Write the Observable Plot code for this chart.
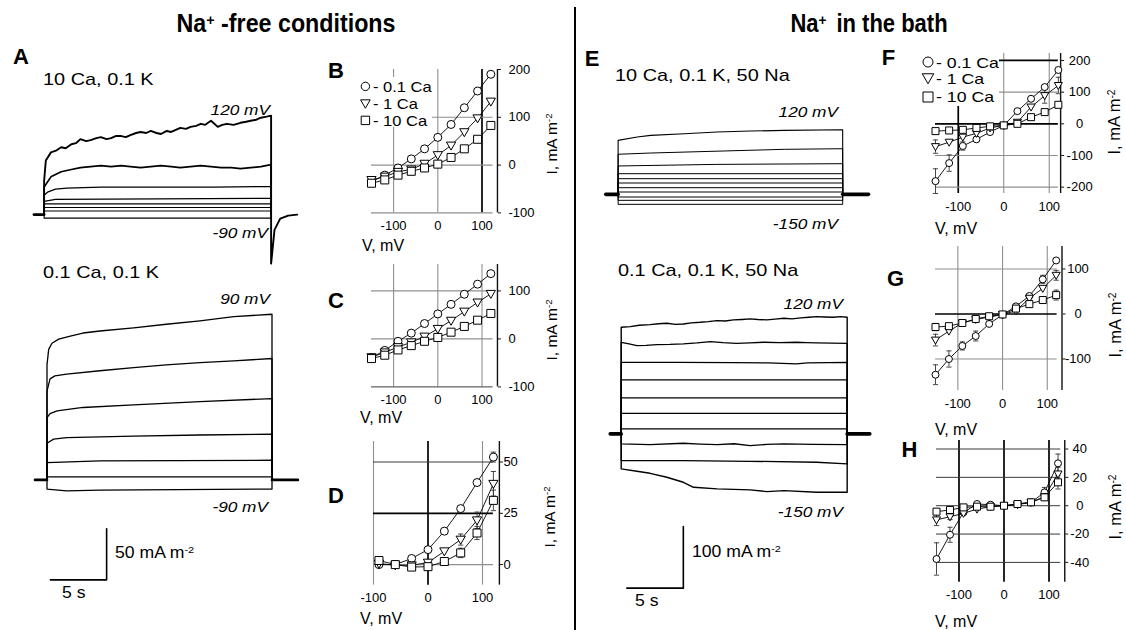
<!DOCTYPE html>
<html><head><meta charset="utf-8">
<script src="https://cdn.jsdelivr.net/npm/d3@7"></script>
<script src="https://cdn.jsdelivr.net/npm/@observablehq/plot@0.6"></script>
<style>
body{margin:0;background:#fff}
#fig{position:relative;width:1126px;height:630px;overflow:hidden;background:#fff;font-family:"Liberation Sans",Arial,Helvetica,sans-serif;color:#000}
.lab{position:absolute;white-space:nowrap;line-height:1}
</style></head><body><div id="fig"></div><script>
// ---------------- DATA ----------------
// I-V panels: voltage steps (mV) and mean currents (mA m^-2)
const V = [-150,-120,-90,-60,-30,0,30,60,90,120];
const VD = [-90,-60,-30,0,30,60,90,120];
const seriesNames = ["- 0.1 Ca","- 1 Ca","- 10 Ca"];

const B_ca01 = [-35,-21,-6,13,34,58,85,120,155,190];
const B_ca1  = [-31,-24,-14,-9,3,21,41,69,98,133];
const B_ca10 = [-38,-31,-21,-13,-6,2,16,34,54,83];

const C_ca01 = [-39,-24,-5,12,32,52,72,93,114,136];
const C_ca1  = [-38,-28,-17,-7,5,21,38,57,76,94];
const C_ca10 = [-41,-34,-23,-14,-5,3,14,26,39,53];

const D_ca01 = [0,0,3,7.3,16.3,27.3,40,52.4];
const D_ca1  = [0.5,-0.3,-0.3,1,6.5,12.2,21.6,39.4];
const D_ca10 = [2,0,-1.2,-1,1.5,5.7,15.4,31.3];
const D_err01 = [0,0,0,0,0,0,0,2.4];
const D_err1  = [0,0,0,0,0,2.7,4,6];
const D_err10 = [0,0,0,0,0,2.3,3.2,5];

const F_ca01 = [-181,-124,-70,-49,-26,-5,40,79,116,170];
const F_ca1  = [-72,-58,-42,-30,-13,-5,5,53,89,121];
const F_ca10 = [-23,-21,-19,-13,-8,-5,0,21,37,60];
const F_err01 = [39,26,13,0,0,0,0,0,0,0];
const F_err1  = [21,0,0,0,0,0,0,0,24,26];
const F_err10 = [0,0,0,0,0,0,0,0,0,8];

const G_ca01 = [-135,-100,-71,-49,-22,-1.5,17,40,77,119];
const G_ca1  = [-58,-38,-20,-12,-7,-1,7,35,57,86];
const G_ca10 = [-29,-27,-20,-11,-5,-1,12,22,31,42];
const G_err01 = [22,18,9,11,0,0,0,0,9,0];
const G_err1  = [13,0,0,0,0,0,0,0,0,11];
const G_err10 = [8,0,0,0,0,0,0,0,7,11];

const H_ca01 = [-37.6,-20.5,-4.7,1.2,0.7,0,1.2,2.4,9.4,29.9];
const H_ca1  = [-10,-7.8,-5.4,-2.4,-0.7,0,0.7,2.4,6.4,22.4];
const H_ca10 = [-4.2,-3,-1.2,-0.7,-0.7,0,1.2,2.4,5.9,16.5];
const H_err01 = [11.4,5.3,0,0,0,0,0,0,3.5,6.5];
const H_err1  = [4,2,0,0,0,0,0,0,0,4.7];
const H_err10 = [0,0,0,0,0,0,0,0,0,4.7];
const zeros = V.map(() => 0);

// Current traces: [time s, current mA m^-2]
// A, 10 Ca, 0.1 K
const A1_120 = [[0,0],[0,33],[0.15,53],[0.6,61],[1.1,63],[1.5,66],[1.9,65],[2.4,69],[2.8,70],[3.2,74],[3.7,72],[4.1,73],[4.6,75],[5,76],[5.5,74],[5.9,75],[6.3,77],[6.8,77],[7.2,76],[7.6,78],[8.1,80],[8.5,81],[9,80],[9.4,82],[9.9,80],[10.3,79],[10.8,82],[11.2,81],[11.6,83],[12,85],[12.5,84],[12.9,86],[13.4,87],[13.8,89],[14.2,88],[14.7,92],[15,89],[15.3,86],[15.7,88],[16.1,89],[16.7,88],[17.3,90],[17.8,91],[18.2,92],[18.7,93],[19.1,95],[19.6,96],[20,97],[20,-48],[20.3,-15],[20.8,-4],[21.5,-1],[22.3,0]];
const A1_90 = [[0,0],[0,27],[0.6,37],[1.5,42],[2.3,44],[3.2,46],[4.1,47],[5,48],[5.9,47],[6.8,48],[7.6,47],[8.5,46],[9.4,47],[10.3,48],[11.2,47],[12,46],[12.9,47],[13.8,48],[14.7,47],[15.6,46],[16.5,46],[17.3,45],[18.2,46],[19.1,47],[20,49],[20,0]];
const A1_60 = [[0,0],[0,19],[0.3,22],[1,25],[2,26],[5,27],[10,27],[15,27],[20,27.5],[20,0]];
const A1_30 = [[0,0],[0,13],[1,15],[10,15.5],[20,16],[20,0]];
const A1_0 = [[0,0],[0,10.5],[20,10.5],[20,0]];
const A1_m30 = [[0,0],[0,7],[20,7],[20,0]];
const A1_m60 = [[0,0],[0,3.5],[20,3.5],[20,0]];
const A1_m90 = [[0,0],[0,-3.5],[20,-3.5],[20,0]];
const A1_hold = [[-0.9,0],[0,0]];
// A, 0.1 Ca, 0.1 K
const A2_90 = [[0,0],[0,113],[0.15,128],[0.44,134],[1.04,138],[2.07,141],[3.2,144],[4.7,146],[7.7,149],[10.6,152.6],[13.6,156],[16.6,160],[20,162.4],[20,0]];
const A2_60 = [[0,0],[0,87],[0.27,99],[0.7,102],[1.75,103.6],[4.7,107],[7.7,110],[10.6,112.7],[13.6,115],[16.6,116.7],[20,119],[20,0]];
const A2_30 = [[0,0],[0,61],[0.27,65],[0.9,67.6],[3.2,71],[7.7,73.5],[13.6,76.8],[20,79.7],[20,0]];
const A2_0 = [[0,0],[0,36],[0.59,40],[1.75,41.5],[7.7,43],[13.6,44],[20,44.8],[20,0]];
const A2_m30 = [[0,0],[0,17],[4.7,18.6],[20,19.3],[20,0]];
const A2_m60 = [[0,0],[0,3],[20,3],[20,0]];
const A2_m90 = [[0,0],[0,-9],[1.75,-10.8],[4.7,-10],[20,-9],[20,0]];
const A2_hold1 = [[-1.07,0],[0,0]];
const A2_hold2 = [[20,0],[22.3,0]];
const A_scaleBar = [[0.3,-98],[5.3,-98],[5.3,-48]];   // 5 s, 50 mA m^-2
// E, 10 Ca, 0.1 K, 50 Na
const E1_a = [[0,0],[0,87.5],[1.7,93],[2.9,95.6],[5.9,98.3],[8.8,101],[11.8,102.6],[14.8,103.7],[20,104.8],[20,0]];
const E1_b = [[0,0],[0,65],[2.9,67],[8.8,70],[14.8,73],[20,74],[20,0]];
const E1_c = [[0,0],[0,46],[8.8,48.6],[20,49.7],[20,0]];
const E1_levels = [33.5,25.4,18.4,10.8,3.8,-4.3,-9.7,-16.2];
const E1_hold1 = [[-1.1,0],[0,0]];
const E1_hold2 = [[20,0],[22.3,0]];
// E, 0.1 Ca, 0.1 K, 50 Na
const E2_1 = [[0,0],[0,172.8],[0.8,173.9],[1.6,176],[2.56,177.1],[3.3,178.5],[4.04,179.3],[4.8,177.5],[5.5,178.2],[6.2,180],[7,180.9],[7.7,182],[8.47,183.6],[9.2,183],[9.94,184.8],[10.7,185.5],[11.4,186.4],[12.1,185.5],[12.9,184.8],[13.6,186],[14.4,187.4],[15.1,186.5],[15.9,188],[16.6,189],[17.3,190.1],[18,189.5],[18.8,189],[19.4,190],[20,189],[20,0]];
const E2_2 = [[0,0],[0,148.5],[0.7,146],[1.39,143.1],[2.2,143.5],[3.16,144.7],[4.3,145],[5.5,145.9],[6.7,147.5],[7.9,149.6],[9,148],[10.2,146.8],[11.4,147.5],[12.6,148.5],[14,148],[15.5,148.5],[16.4,148],[17.3,147.4],[18.6,147],[20,146.8],[20,0]];
const E2_3 = [[0,0],[0,116],[5,116],[10,115.5],[13,115],[15.5,113.4],[16.5,115],[20,116],[20,0]];
const E2_levels = [87.5,58.3,33.4,8.1];
const E2_8 = [[0,0],[0,-16.2],[2.56,-17.3],[5.5,-15.2],[7,-16.5],[8.5,-17.3],[10,-16],[11.4,-19],[12.9,-17],[14.4,-16.2],[17,-17],[20,-17.3],[20,0]];
const E2_9 = [[0,0],[0,-43.3],[5.5,-43.3],[11.4,-44.4],[17.3,-46],[20,-48.6],[20,0]];
const E2_10 = [[0,0],[0,-56.7],[1.39,-60.6],[2.56,-63.9],[4.04,-70.3],[5.5,-78.4],[6.4,-86.5],[8.5,-89.1],[11.4,-90.8],[12.9,-93.5],[14.4,-91.9],[17.3,-94.6],[20,-94.6],[20,0]];
const E2_hold1 = [[-0.97,0],[0,0]];
const E2_hold2 = [[20,0],[22,0]];
const E_scaleBar = [[0.5,-250],[5.5,-250],[5.5,-150]];  // 5 s, 100 mA m^-2

// ---------------- HELPERS ----------------
const fig = document.getElementById("fig");
const FONT = '"Liberation Sans", Arial, Helvetica, sans-serif';
const fmt = d => (d < 0 ? "-" + Math.abs(d) : String(d));
const SUP = s => `<span style="font-size:.62em;position:relative;top:-.5em">${s}</span>`;

function lab(html, x, cy, o = {}) {
  const s = o.size || 16, a = o.anchor || "start", sx = o.sx || 1;
  const p = a === "start" ? 0 : a === "middle" ? 50 : 100;
  const d = document.createElement("div");
  d.className = "lab"; d.innerHTML = html;
  d.style.left = x + "px"; d.style.top = (cy - 0.49 * s) + "px"; d.style.fontSize = s + "px";
  if (o.bold) d.style.fontWeight = "bold";
  if (o.italic) d.style.fontStyle = "italic";
  d.style.transformOrigin = p + "% 50%";
  d.style.transform = `translateX(${-p}%) scaleX(${sx})`;
  fig.appendChild(d);
}
function vlab(html, cx, cy, s) {
  const d = document.createElement("div");
  d.className = "lab"; d.innerHTML = html;
  d.style.left = cx + "px"; d.style.top = cy + "px"; d.style.fontSize = s + "px";
  d.style.transform = "translate(-50%,-50%) rotate(-90deg)";
  fig.appendChild(d);
}
function box(x, y, w, h, bg) {
  const d = document.createElement("div");
  Object.assign(d.style, {position: "absolute", left: x + "px", top: y + "px", width: w + "px", height: h + "px", background: bg});
  fig.appendChild(d);
}
// A Plot whose frame is placed so that value 0 sits at pixel x0/y0, with sx/sy px per unit
function panel({xd, yd, x0, sx, y0, sy, m = [2, 2, 2, 2], marks, axes = false}) {
  const L = x0 + xd[0] * sx, R = x0 + xd[1] * sx, T = y0 - yd[1] * sy, B = y0 - yd[0] * sy;
  const [mt, mr, mb, ml] = m;
  const opts = {
    width: R - L + ml + mr, height: B - T + mt + mb,
    marginTop: mt, marginRight: mr, marginBottom: mb, marginLeft: ml,
    x: {domain: xd}, y: {domain: yd},
    style: {fontFamily: FONT, fontSize: "12.5px", overflow: "visible", background: "transparent", color: "#000"},
    marks
  };
  if (!axes) { opts.x.axis = null; opts.y.axis = null; }
  const svg = Plot.plot(opts);
  svg.style.position = "absolute";
  svg.style.left = (L - ml) + "px";
  svg.style.top = (T - mt) + "px";
  fig.appendChild(svg);
}

const symTri = {draw(ctx, size) { const r = Math.sqrt(size / Math.PI);
  ctx.moveTo(-1.15 * r, -0.85 * r); ctx.lineTo(1.15 * r, -0.85 * r); ctx.lineTo(0, 1.15 * r); ctx.closePath(); }};
const symSq = {draw(ctx, size) { const r = Math.sqrt(size / Math.PI); ctx.rect(-r, -r, 2 * r, 2 * r); }};
const SYMS = ["circle", symTri, symSq];
const GST = {g: {stroke: "#8f8f8f", strokeWidth: 1.1}, d: {stroke: "#3a3a3a", strokeWidth: 1}, k: {stroke: "#000", strokeWidth: 1.7}};

function ivPanel(c) {
  const marks = [];
  for (const [v, k] of c.gridV) marks.push(Plot.ruleX([v], {y1: c.yd[0], y2: c.yd[1], ...GST[k]}));
  for (const [v, k] of c.gridH) marks.push(Plot.ruleY([v], {x1: c.gridX[0], x2: c.gridX[1], ...GST[k]}));
  marks.push(Plot.ruleX([c.xd[1]], {y1: c.yd[0], y2: c.yd[1], stroke: "#111", strokeWidth: 1.4}));
  marks.push(Plot.axisY({anchor: "right", ticks: c.yTicks, tickSize: 3, tickPadding: c.yPad, textAnchor: c.yTA, tickFormat: fmt, label: null, stroke: "#111", fontSize: 13}));
  marks.push(Plot.axisX({anchor: "bottom", ticks: [-100, 0, 100], tickSize: 0, tickPadding: 8, tickFormat: fmt, label: null, fontSize: 13}));
  const cap = 2.6 / c.sx;
  const rowsAll = c.vals.map((arr, j) => c.V.map((v, i) => ({v, i: arr[i], e: c.errs[j][i]})));
  rowsAll.forEach(rows => {
    marks.push(Plot.line(rows, {x: "v", y: "i", stroke: "#000", strokeWidth: 0.9}));
    const eb = rows.filter(d => d.e > 0);
    marks.push(Plot.ruleX(eb, {x: "v", y1: d => d.i - d.e, y2: d => d.i + d.e, stroke: "#333", strokeWidth: 0.9}));
    marks.push(Plot.link(eb, {x1: d => d.v - cap, x2: d => d.v + cap, y1: d => d.i + d.e, y2: d => d.i + d.e, stroke: "#333", strokeWidth: 0.9}));
    marks.push(Plot.link(eb, {x1: d => d.v - cap, x2: d => d.v + cap, y1: d => d.i - d.e, y2: d => d.i - d.e, stroke: "#333", strokeWidth: 0.9}));
  });
  rowsAll.forEach((rows, j) => marks.push(Plot.dot(rows, {x: "v", y: "i", r: c.r, symbol: SYMS[j], fill: "#fff", stroke: "#000", strokeWidth: 1})));
  panel({xd: c.xd, yd: c.yd, x0: c.x0, sx: c.sx, y0: c.y0, sy: c.sy, m: [4, 45, 26, 4], marks, axes: true});
}

function traceMarks(traces) {
  return traces.map(([t, sw]) => Plot.line(t, {stroke: "#000", strokeWidth: sw, strokeLinejoin: "round"}));
}
const flat = L => [[0, 0], [0, L], [20, L], [20, 0]];

// ---------------- TRACES ----------------
panel({xd: [-1.2, 23], yd: [-55, 105], x0: 43.3, sx: 11.35, y0: 214, sy: 1.02,
  marks: traceMarks([[A1_hold, 2.6], [A1_m90, 1.1], [A1_m60, 1.1], [A1_m30, 1.1], [A1_0, 1.1], [A1_30, 1.2], [A1_60, 1.3], [A1_90, 1.7], [A1_120, 1.9]])});
panel({xd: [-1.2, 23], yd: [-105, 170], x0: 46.7, sx: 11.25, y0: 479, sy: 1.02,
  marks: [...traceMarks([[A2_hold1, 2.6], [A2_hold2, 2.6], [A2_m90, 1.3], [A2_m60, 1.3], [A2_m30, 1.3], [A2_0, 1.3], [A2_30, 1.3], [A2_60, 1.3], [A2_90, 1.3]]),
    Plot.line(A_scaleBar, {stroke: "#000", strokeWidth: 1.6})]});
panel({xd: [-1.3, 23], yd: [-25, 110], x0: 617.7, sx: 11.23, y0: 194, sy: 0.617,
  marks: traceMarks([[E1_hold1, 3.6], [E1_hold2, 3.6], ...E1_levels.map(L => [flat(L), 1]), [E1_c, 1], [E1_b, 1], [E1_a, 1.1]])});
panel({xd: [-1.3, 23], yd: [-260, 200], x0: 621, sx: 11.3, y0: 433.3, sy: 0.617,
  marks: [...traceMarks([[E2_hold1, 3.6], [E2_hold2, 3.6], [E2_10, 1.4], [E2_9, 1.3], [E2_8, 1.3], ...E2_levels.map(L => [flat(L), 1.2]), [E2_3, 1.2], [E2_2, 1.3], [E2_1, 1.4]]),
    Plot.line(E_scaleBar, {stroke: "#000", strokeWidth: 1.6})]});

// ---------------- I-V PANELS ----------------
ivPanel({V, vals: [B_ca01, B_ca1, B_ca10], errs: [zeros, zeros, zeros], r: 4,
  xd: [-150, 135], yd: [-100, 200], x0: 437.5, sx: 0.442, y0: 164.9, sy: 0.478,
  gridV: [[-100, "g"], [0, "g"], [100, "k"]], gridH: [[100, "g"], [0, "g"], [-100, "g"]], gridX: [-150, 125],
  yTicks: [200, 100, 0, -100], yTA: "start", yPad: 8});
ivPanel({V, vals: [C_ca01, C_ca1, C_ca10], errs: [zeros, zeros, zeros], r: 4,
  xd: [-150, 135], yd: [-100, 155], x0: 437.5, sx: 0.442, y0: 338, sy: 0.48,
  gridV: [[-100, "g"], [0, "g"], [100, "g"]], gridH: [[100, "g"], [0, "g"], [-100, "d"]], gridX: [-150, 125],
  yTicks: [100, 0, -100], yTA: "start", yPad: 8});
ivPanel({V: VD, vals: [D_ca01, D_ca1, D_ca10], errs: [D_err01, D_err1, D_err10], r: 4,
  xd: [-100, 131], yd: [-10, 60], x0: 427.8, sx: 0.545, y0: 564.3, sy: 2.052,
  gridV: [[-100, "g"], [0, "k"], [100, "g"]], gridH: [[50, "d"], [25, "k"], [0, "g"]], gridX: [-100, 120],
  yTicks: [50, 25, 0], yTA: "start", yPad: 1});
ivPanel({V, vals: [F_ca01, F_ca1, F_ca10], errs: [F_err01, F_err1, F_err10], r: 3.5,
  xd: [-150, 125], yd: [-220, 222], x0: 1002.8, sx: 0.455, y0: 123.35, sy: 0.31675,
  gridV: [[-100, "k"], [0, "g"], [100, "g"]], gridH: [[200, "k"], [100, "g"], [0, "k"], [-100, "g"], [-200, "g"]], gridX: [-150, 120],
  yTicks: [200, 100, 0, -100, -200], yTA: "middle", yPad: 16});
ivPanel({V, vals: [G_ca01, G_ca1, G_ca10], errs: [G_err01, G_err1, G_err10], r: 3.5,
  xd: [-150, 133], yd: [-170, 150], x0: 1002, sx: 0.447, y0: 313.3, sy: 0.45,
  gridV: [[-100, "g"], [0, "g"], [100, "g"]], gridH: [[100, "g"], [0, "k"], [-100, "g"]], gridX: [-150, 122],
  yTicks: [100, 0, -100], yTA: "middle", yPad: 13});
ivPanel({V, vals: [H_ca01, H_ca1, H_ca10], errs: [H_err01, H_err1, H_err10], r: 3.5,
  xd: [-150, 135], yd: [-54, 46], x0: 1003.3, sx: 0.45, y0: 505, sy: 1.4175,
  gridV: [[-100, "k"], [0, "k"], [100, "k"]], gridH: [[40, "d"], [20, "d"], [0, "d"], [-20, "d"], [-40, "d"]], gridX: [-150, 126],
  yTicks: [40, 20, 0, -20, -40], yTA: "middle", yPad: 12});

// ---------------- LEGENDS ----------------
function legend(x, ys, tx, r, size, sx) {
  ys.forEach((y, j) => {
    const w = 4 * r;
    const svg = d3.create("svg").attr("width", w).attr("height", w)
      .style("position", "absolute").style("left", (x - w / 2) + "px").style("top", (y - w / 2) + "px").style("overflow", "visible");
    const type = j === 0 ? d3.symbolCircle : SYMS[j];
    svg.append("path").attr("transform", `translate(${w / 2},${w / 2})`)
      .attr("d", d3.symbol().type(type).size(Math.PI * r * r)()).attr("fill", "#fff").attr("stroke", "#000").attr("stroke-width", 1);
    fig.appendChild(svg.node());
    lab(seriesNames[j], tx, y, {size, sx});
  });
}
box(358, 77, 74, 50, "#fff");
legend(365, [86.7, 103, 120], 373, 4.2, 15, 1.1);
box(921, 52, 78, 54, "#fff");
legend(928, [62, 78.3, 96.7], 936, 5, 15, 1.18);

// ---------------- TEXT ----------------
box(574, 7, 2, 623, "#000");
lab(`Na${SUP("+")} -free conditions`, 286, 23.5, {size: 25, bold: true, anchor: "middle", sx: 0.93});
lab(`Na${SUP("+")}<span style="margin-left:.45em">in the bath</span>`, 869, 23.5, {size: 25, bold: true, anchor: "middle", sx: 0.88});

[["A", 21, 56.5], ["B", 336, 71], ["C", 336, 301], ["D", 336, 496], ["E", 592, 59], ["F", 888.5, 57.5], ["G", 895.5, 278.5], ["H", 909.5, 449.5]]
  .forEach(([t, x, y]) => lab(t, x, y, {size: 22, bold: true, anchor: "middle"}));

lab("10 Ca, 0.1 K", 43, 79, {size: 17, sx: 1.17});
lab("0.1 Ca, 0.1 K", 43, 272, {size: 17, sx: 1.17});
lab("10 Ca, 0.1 K, 50 Na", 615, 75, {size: 17, sx: 1.17});
lab("0.1 Ca, 0.1 K, 50 Na", 618, 270, {size: 17, sx: 1.17});

const it = {size: 15, italic: true, anchor: "end", sx: 1.15};
lab("120 mV", 270, 109, it); lab("-90 mV", 268, 232.5, it);
lab("90 mV", 270, 298, it); lab("-90 mV", 268, 506.7, it);
lab("120 mV", 838, 111.7, it); lab("-150 mV", 838, 223, it);
lab("120 mV", 843, 303.3, it); lab("-150 mV", 843, 511.7, it);

lab(`50 mA m${SUP("-2")}`, 115, 553, {size: 16, sx: 1.1});
lab("5 s", 62, 593, {size: 16, sx: 1.1});
lab(`100 mA m${SUP("-2")}`, 692, 552, {size: 16, sx: 1.1});
lab("5 s", 635, 601, {size: 16, sx: 1.1});

[[362, 246], [360, 418], [360, 619], [935, 229], [935, 430], [935, 622]].forEach(([x, y]) => lab("V, mV", x, y, {size: 16}));
[[552, 144, 15.5], [552, 330, 15.5], [550, 517, 15.5], [1114, 122, 16.5], [1115, 325, 16.5], [1115, 507, 16.5]]
  .forEach(([x, y, s]) => vlab(`I, mA m${SUP("-2")}`, x, y, s));
</script></body></html>
